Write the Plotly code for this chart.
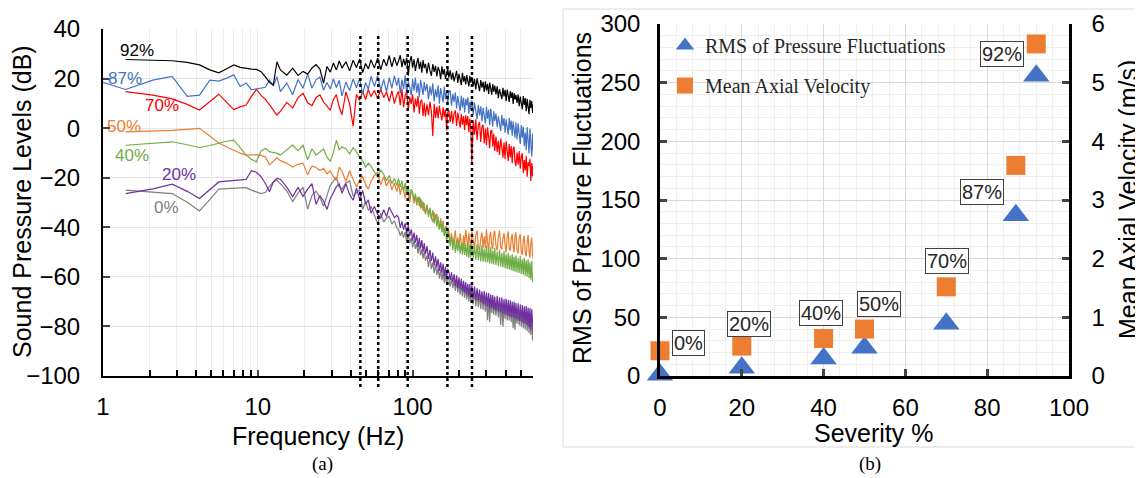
import math
import plotly.graph_objects as go

# ---- (a) sound pressure spectra ----
freq = [0.7, 1.4, 2.1, 2.8, 3.5, 4.2, 4.9, 5.6, 6.3, 7.0, 7.7, 8.4, 9.1, 9.8, 10.5, 11.2, 11.9, 12.6, 13.3, 14.0,
        15.4, 16.8, 18.2, 19.6, 21.0, 22.4, 23.8, 25.2, 26.6, 28.0, 29.4, 30.8, 32.2, 33.6, 35.0,
        37.1, 39.2, 41.3, 43.4, 45.5, 47.6, 49.7, 51.8, 53.9,
        56.7, 59.5, 62.3, 65.1, 67.9, 70.7, 73.5, 76.3, 79.1,
        81.2, 83.3, 85.4, 87.5, 89.6, 91.7, 93.8, 95.9, 98.0, 100.1,
        102.2, 104.3, 106.4, 108.5, 110.6, 112.7, 114.8, 116.9, 119.0, 121.1,
        123.9, 126.7, 129.5, 132.3, 135.1, 137.9, 140.7, 143.5, 146.3,
        149.1, 151.9, 154.7, 157.5, 160.3, 163.1, 165.9, 168.7, 171.5,
        175.0, 178.5, 182.0, 185.5, 189.0, 192.5, 196.0, 199.5, 203.0, 206.5,
        210.0, 213.5, 217.0, 220.5, 224.0, 227.5, 231.0, 234.5, 238.0, 241.5,
        246.4, 251.3, 256.2, 261.1, 266.0, 270.9, 275.8, 280.7, 285.6, 290.5,
        295.4, 300.3, 305.2, 310.1, 315.0, 319.9, 324.8, 329.7, 334.6, 339.5,
        345.8, 352.1, 358.4, 364.7, 371.0, 377.3, 383.6, 389.9, 396.2, 402.5,
        408.8, 415.1, 421.4, 427.7, 434.0, 440.3, 446.6, 452.9, 459.2, 465.5,
        473.2, 480.9, 488.6, 496.3, 504.0, 511.7, 519.4, 527.1, 534.8,
        542.5, 550.2, 557.9, 565.6, 573.3, 581.0, 588.7, 596.4, 604.1]

spl_92 = [None, 27.7, 27.5, 27.2, 26.5, 25.5, 23.5, 22.3, 24.0, 25.5, 24.5, 24.0, 23.8, 23.7, 22.8, 20.7, 18.5, 17.4, 26.8, 23.5,
          21.4, 24.2, 21.3, 22.9, 21.8, 24.3, 25.6, 23.8, 18.2, 24.9, 22.6, 26.3, 23.5, 27.1, 24.2,
          26.8, 23.1, 27.4, 24.5, 27.9, 22.4, 26.1, 23.9, 27.5,
          24.3, 28.2, 23.6, 27.8, 25.1, 29.3, 24.7, 28.6, 25.2,
          27.1, 29.4, 24.6, 27.9, 25.3, 28.4, 21.2, 26.7, 29.1, 24.4,
          27.8, 23.1, 26.2, 28.3, 23.9, 26.8, 22.4, 27.5, 24.2, 25.9,
          22.1, 26.4, 23.3, 21.1, 25.8, 22.7, 25.1, 20.9, 24.6,
          23.2, 19.8, 24.9, 21.6, 23.8, 19.9, 22.8, 24.1, 20.4,
          23.3, 19.6, 22.4, 18.9, 21.7, 23.1, 18.2, 21.9, 19.7, 17.4,
          22.3, 18.8, 20.9, 17.6, 21.4, 19.2, 16.8, 21.1, 18.4, 20.6,
          16.9, 19.8, 15.6, 20.1, 17.2, 14.9, 19.4, 16.3, 18.7, 14.6,
          18.9, 15.2, 17.9, 13.8, 18.4, 16.1, 13.5, 17.8, 14.7, 17.2,
          13.6, 16.9, 12.1, 15.8, 13.9, 11.7, 16.3, 12.8, 15.4, 10.9,
          15.6, 13.1, 10.6, 14.9, 12.2, 14.5, 9.8, 14.1, 11.6, 13.4,
          10.2, 13.6, 8.9, 12.7, 10.8, 7.6, 12.9, 9.4, 12.1,
          6.8, 11.8, 9.1, 5.6, 11.4, 8.2, 10.9, 6.1, 9.7]

spl_87 = [21.5, 15.6, 19.4, 20.9, 12.8, 13.3, 19.4, 19.0, 20.2, 21.5, 16.8, 18.2, 15.5, 15.8, 16.2, 16.5, 19.4, 17.0, 20.7, 14.7,
          18.2, 13.5, 19.6, 16.1, 21.8, 16.2, 19.5, 20.6, 15.3, 18.4, 15.8, 19.9, 16.4, 19.3, 13.0,
          18.6, 15.2, 19.8, 16.3, 20.1, 13.8, 18.4, 15.6, 20.9,
          16.8, 21.2, 15.3, 19.7, 14.6, 20.4, 16.1, 21.1, 17.2,
          20.3, 14.1, 19.6, 15.8, 21.2, 13.7, 18.9, 16.4, 13.2, 19.8,
          15.1, 20.4, 14.3, 18.1, 12.6, 19.5, 15.7, 13.4, 18.6, 14.9,
          17.8, 11.6, 16.9, 13.2, 18.1, 10.8, 15.7, 12.4, 17.3,
          9.9, 16.2, 13.1, 10.4, 16.8, 11.7, 15.1, 9.3, 14.6,
          15.2, 9.1, 13.8, 10.6, 14.4, 7.9, 12.9, 9.8, 6.9, 13.1,
          8.4, 12.2, 6.3, 11.8, 9.2, 12.4, 5.8, 10.7, 7.6, 11.2,
          5.4, 10.3, 6.8, 3.6, 9.4, 5.1, 8.8, 2.7, 8.2, 4.6,
          1.9, 8.6, 3.8, 7.4, 1.2, 7.9, 3.3, 0.6, 6.8, 2.9,
          5.9, 0.4, 4.8, 1.7, -1.1, 5.3, 0.8, 4.1, -1.8, 3.6,
          0.2, -2.6, 4.2, -0.7, 3.1, -3.2, 2.8, -1.4, -3.8, 2.4,
          -4.6, 1.9, -2.1, -6.4, 1.2, -3.9, 0.6, -7.3, -1.8,
          -8.9, 0.4, -4.7, -10.2, -0.3, -6.1, -11.4, -2.2, -9.8]

spl_70 = [None, 14.7, 13.3, 11.8, 9.6, 7.3, 10.8, 13.7, 10.4, 7.5, 8.6, 9.3, 12.8, 15.6, 13.2, 11.6, 9.5, 7.4, 5.3, 6.8,
          10.4, 8.1, 12.3, 14.1, 10.2, 9.1, 12.4, 13.4, 10.6, 8.9, 7.2, 11.6, 13.5, 8.4, 5.4,
          14.6, 9.8, 0.8, 13.6, 11.2, 14.8, 11.5, 15.6, 12.7,
          15.2, 11.9, 15.8, 12.3, 14.6, 10.8, 15.1, 9.9, 13.4,
          14.8, 9.3, 15.9, 8.4, 13.1, 14.7, 7.2, 12.6, 9.8, 13.6,
          6.3, 11.9, 8.7, 12.9, 5.8, 10.8, 11.4, 4.9, 10.2, 4.7,
          9.6, 5.2, 10.6, 6.8, -3.2, 9.8, 4.1, 8.6, 3.9,
          9.1, 5.7, 3.1, 8.4, 4.4, 7.6, -0.9, 6.3, 7.2,
          2.4, 6.9, 1.8, 5.8, 7.1, 0.9, 6.3, 2.6, 0.2, 5.7,
          1.4, 4.9, -0.8, 5.2, 1.1, 4.9, -1.6, 3.8, -0.4, -13.8,
          3.1, -2.6, 3.6, -4.8, 1.2, 2.5, -5.6, 0.4, 1.4, -6.2,
          -0.2, -6.9, 0.3, -3.4, -8.1, -1.1, -0.9, -7.4, -2.3, -9.2,
          -3.4, -9.6, -5.1, -10.8, -4.2, -7.6, -11.9, -5.8, -12.4, -5.3,
          -9.1, -13.2, -6.4, -11.8, -7.2, -14.1, -8.3, -7.5, -13.6, -15.3,
          -9.8, -14.7, -9.2, -16.4, -11.6, -10.1, -18.2, -12.9, -17.1,
          -11.3, -19.6, -13.8, -15.2, -12.4, -21.3, -14.1, -19.5, -14.6]

spl_50 = [None, -1.5, -1.2, -0.9, -0.5, -0.1, -3.2, -6.0, -7.6, -9.0, -10.1, -10.9, -10.8, -10.7, -11.0, -11.6, -14.8, -13.2, -12.0, -13.1,
          -14.2, -15.7, -14.6, -14.1, -18.8, -15.3, -15.9, -17.1, -16.2, -18.4, -17.3, -19.6, -21.1, -15.7, -17.4,
          -21.5, -17.2, -20.6, -23.8, -20.9, -19.5, -22.8, -24.6, -21.4,
          -19.1, -17.8, -22.9, -19.6, -23.4, -20.8, -24.9, -22.1, -25.6,
          -22.4, -26.8, -23.4, -25.1, -28.2, -24.6, -27.3, -29.9, -25.7, -26.1,
          -30.4, -27.2, -31.2, -28.6, -27.8, -32.6, -29.1, -33.4, -30.2, -34.8,
          -31.4, -34.7, -32.1, -36.2, -37.9, -33.8, -37.1, -34.6, -39.3,
          -40.8, -36.4, -41.2, -37.3, -43.2, -39.8, -39.5, -44.6, -41.3,
          -46.1, -42.4, -47.3, -43.6, -41.2, -47.8, -44.1, -48.1, -42.4, -46.5,
          -49.3, -43.2, -47.6, -40.9, -45.8, -48.5, -42.2, -47.4, -49.1, -41.6,
          -46.2, -48.7, -43.1, -41.3, -47.9, -49.2, -44.6, -42.1, -48.3, -43.7,
          -48.4, -40.8, -46.1, -49.6, -43.4, -41.9, -47.2, -48.8, -42.7, -41.4,
          -47.6, -49.3, -43.8, -41.2, -48.1, -48.9, -44.5, -42.3, -47.2, -50.1,
          -43.6, -41.7, -48.7, -49.4, -44.9, -42.6, -47.8, -50.2, -43.3, -42.1,
          -49.2, -50.6, -44.1, -42.8, -49.7, -51.2, -45.3, -43.5, -50.4,
          -51.8, -45.9, -43.1, -49.8, -52.4, -46.2, -44.2, -51.6, -53.1]

spl_40 = [None, -6.9, -6.2, -5.5, -6.7, -7.8, -7.0, -6.0, -5.3, -4.8, -7.9, -10.8, -12.6, -13.6, -9.2, -8.2, -9.5, -9.9, -10.2, -10.9,
          -8.6, -6.8, -9.1, -6.9, -12.8, -8.3, -10.9, -9.6, -8.4, -11.7, -13.4, -9.8, -4.9, -8.7, -7.6,
          -8.3, -10.4, -7.9, -9.5, -11.8, -13.2, -15.8, -14.1, -15.3,
          -17.4, -19.8, -16.9, -18.6, -21.2, -19.1, -22.4, -20.3, -23.1,
          -20.4, -23.8, -21.2, -25.6, -22.1, -26.9, -23.3, -28.4, -24.7, -25.8,
          -29.2, -26.4, -30.1, -27.6, -31.5, -28.3, -32.2, -29.7, -33.4, -34.1,
          -30.8, -35.9, -32.4, -36.8, -33.1, -38.4, -34.9, -39.6, -35.8,
          -40.9, -37.2, -42.1, -38.3, -43.6, -39.8, -45.7, -41.2, -42.9,
          -47.6, -43.4, -49.2, -44.1, -50.3, -45.8, -49.6, -45.2, -50.6, -46.4,
          -51.1, -45.8, -51.2, -46.9, -51.9, -46.3, -52.4, -47.1, -52.2, -46.7,
          -52.3, -47.6, -53.1, -46.9, -53.2, -48.1, -53.8, -47.2, -53.9, -48.6,
          -54.1, -47.5, -54.2, -49.1, -54.6, -47.9, -54.7, -49.4, -55.0, -48.3,
          -55.2, -49.8, -55.6, -49.1, -55.9, -50.4, -56.2, -49.6, -56.5, -50.9,
          -56.8, -50.2, -57.1, -51.4, -57.3, -50.8, -57.6, -51.9, -57.9, -51.3,
          -58.2, -52.4, -58.4, -51.6, -58.8, -52.9, -59.1, -52.3, -59.5,
          -53.4, -59.8, -52.9, -60.4, -54.1, -61.2, -53.6, -61.8, -62.4]

spl_20 = [None, -26.4, -24.5, -22.6, -25.5, -28.4, -25.0, -21.7, -21.4, -21.1, -20.9, -20.7, -17.2, -17.8, -19.6, -22.3, -25.7, -21.7, -20.3, -20.6,
          -23.8, -27.6, -23.9, -27.5, -24.6, -22.4, -30.8, -27.2, -29.4, -32.8, -28.5, -26.1, -23.6, -22.5, -26.3,
          -22.4, -26.8, -29.1, -24.2, -28.7, -25.1, -30.6, -28.9, -34.3,
          -31.6, -34.8, -36.4, -32.9, -35.7, -31.9, -34.2, -36.1, -35.2,
          -36.1, -40.2, -37.6, -40.9, -38.4, -42.7, -39.2, -43.6, -40.8, -45.4,
          -42.1, -46.2, -43.1, -47.9, -44.3, -48.5, -45.2, -49.8, -46.4, -50.8,
          -47.6, -52.8, -49.1, -53.6, -50.2, -55.4, -51.7, -56.2, -52.7,
          -57.6, -54.1, -58.3, -54.6, -59.7, -55.9, -60.4, -56.8, -57.8,
          -61.3, -58.2, -62.1, -58.9, -63.6, -59.4, -64.5, -60.2, -64.9, -60.8,
          -65.8, -61.6, -66.3, -62.1, -67.1, -62.8, -67.6, -62.9, -68.4, -63.5,
          -68.7, -63.9, -69.2, -64.6, -69.5, -65.1, -70.1, -65.8, -70.8, -65.7,
          -71.4, -66.3, -71.9, -66.5, -72.6, -67.1, -72.4, -67.3, -73.2, -67.9,
          -73.6, -67.6, -74.1, -68.2, -74.4, -68.3, -75.0, -68.9, -75.1, -68.8,
          -75.6, -69.4, -75.8, -69.5, -76.3, -70.1, -76.2, -70.0, -76.9, -70.6,
          -77.1, -70.7, -77.8, -71.2, -78.1, -71.4, -78.6, -71.9, -78.8,
          -71.8, -79.4, -72.4, -80.3, -72.6, -81.2, -73.1, -82.4, -83.6]

spl_0 = [None, -25.0, -25.7, -26.4, -29.9, -33.4, -28.8, -24.6, -24.4, -24.2, -24.1, -24.0, -25.0, -25.8, -26.4, -26.0, -23.5, -21.7, -21.0, -22.4,
         -25.3, -29.6, -26.2, -23.8, -32.7, -27.1, -25.4, -27.9, -31.5, -27.2, -23.1, -21.4, -19.8, -23.9, -24.6,
         -22.1, -21.3, -27.4, -26.1, -24.8, -32.8, -29.6, -33.2, -31.5,
         -35.1, -38.6, -34.4, -37.9, -36.2, -35.6, -38.7, -37.4, -40.3,
         -40.8, -43.5, -41.6, -44.2, -41.9, -45.8, -42.8, -46.5, -44.2, -48.1,
         -45.1, -48.7, -46.3, -50.6, -47.2, -51.3, -48.8, -52.7, -49.6, -53.4,
         -51.4, -56.1, -52.2, -56.8, -54.2, -58.5, -54.9, -59.2, -56.3,
         -60.7, -57.1, -61.4, -57.9, -62.4, -58.6, -63.1, -60.1, -60.8,
         -63.8, -60.5, -64.6, -61.2, -65.6, -61.7, -66.3, -62.4, -67.2, -62.6,
         -67.9, -63.3, -68.4, -63.8, -69.1, -64.5, -69.9, -64.6, -70.6, -65.2,
         -71.1, -66.1, -71.8, -66.7, -72.2, -66.9, -72.9, -67.5, -73.4, -67.8,
         -74.1, -68.4, -77.5, -68.9, -78.2, -69.6, -74.6, -69.5, -75.3, -70.2,
         -75.7, -70.2, -76.4, -70.8, -79.4, -70.9, -80.1, -71.5, -76.9, -71.4,
         -77.6, -72.1, -77.6, -72.2, -78.3, -72.8, -80.7, -72.7, -81.4, -73.4,
         -78.9, -73.3, -79.6, -73.9, -80.1, -73.9, -80.8, -74.6, -81.2,
         -74.5, -81.9, -75.2, -82.7, -75.1, -83.4, -75.8, -85.2, -86.1]

marker_hz = [46, 60, 93, 168, 242]

# ---- (b) RMS and mean axial velocity vs severity ----
severity = [0, 20, 40, 50, 70, 87, 92]
rms = [1, 7, 15, 24, 44.6, 137, 256]
velocity = [0.43, 0.51, 0.64, 0.80, 1.52, 3.59, 5.66]
sev_labels = ['0%', '20%', '40%', '50%', '70%', '87%', '92%']

FONT = 'Liberation Sans, Arial, sans-serif'
SERIF = 'Liberation Serif, Times New Roman, serif'

# the page body adds an 8px margin, so the figure is 8px smaller and positions are shifted
OFF = 8
W, H = 1143 - OFF, 478 - OFF


def px(x):
    return (x - OFF) / W


def py(y):
    return 1 - (y - OFF) / H


fig = go.Figure()

spectra = [
    ('0%', spl_0, '#7f7f7f', 2.59, -31.9),
    ('20%', spl_20, '#7030A0', 3.09, -18.8),
    ('50%', spl_50, '#ED7D31', 1.37, 0.8),
    ('40%', spl_40, '#70AD47', 1.55, -10.9),
    ('70%', spl_70, '#FF0000', 2.42, 9.3),
    ('87%', spl_87, '#4472C4', 1.39, 20.2),
    ('92%', spl_92, '#000000', 1.67, 31.5),
]
for name, vals, col, lx, ly in spectra:
    assert len(vals) == len(freq), (name, len(vals), len(freq))
    fig.add_trace(go.Scatter(x=freq, y=vals, mode='lines', name=name, showlegend=False,
                             line=dict(color=col, width=1.2), xaxis='x', yaxis='y'))
    fig.add_annotation(x=math.log10(lx), y=ly, xref='x', yref='y', text=name, showarrow=False,
                       font=dict(family=FONT, size=17, color=col))

for f in marker_hz:
    fig.add_shape(type='line', xref='x', yref='paper', x0=f, x1=f, y0=py(387), y1=py(35),
                  line=dict(color='black', width=2.5, dash='dot'))

fig.add_trace(go.Scatter(x=severity, y=rms, mode='markers', name='RMS of Pressure Fluctuations',
                         marker=dict(symbol='triangle-up', size=23, color='#4472C4'),
                         cliponaxis=False, xaxis='x2', yaxis='y2', legendgroup='a'))
fig.add_trace(go.Scatter(x=severity, y=velocity, mode='markers', name='Mean Axial Velocity',
                         marker=dict(symbol='square', size=19, color='#ED7D31'),
                         cliponaxis=False, xaxis='x2', yaxis='y3', legendgroup='b'))

# label offsets (px) relative to each RMS point
label_shift = [(28, 32), (7, 44), (-3, 45), (14, 44), (1, 63), (-34, 23), (-34, 22)]
for s, r, t, (dx, dy) in zip(severity, rms, sev_labels, label_shift):
    fig.add_annotation(x=s, y=r, xref='x2', yref='y2', text=t, showarrow=False,
                       xshift=dx, yshift=dy, bgcolor='white', bordercolor='#404040',
                       borderwidth=1, borderpad=1, font=dict(family=FONT, size=20, color='#262626'))

# axis titles and panel captions (pixel positions in the reference)
titles = [
    ('Sound Pressure Levels (dB)', 22, 202, -90),
    ('Frequency (Hz)', 318, 436, 0),
    ('RMS of Pressure Fluctuations', 582, 198, -90),
    ('Mean Axial Velocity (m/s)', 1128, 200, -90),
    ('Severity %', 873, 433, 0),
]
for t, x, y, ang in titles:
    fig.add_annotation(x=px(x), y=py(y), xref='paper', yref='paper', text=t, showarrow=False,
                       textangle=ang, xanchor='center', yanchor='middle',
                       font=dict(family=FONT, size=25, color='black'))
for t, x in [('(a)', 322), ('(b)', 870)]:
    fig.add_annotation(x=px(x), y=py(464), xref='paper', yref='paper', text=t, showarrow=False,
                       xanchor='center', yanchor='middle', font=dict(family=SERIF, size=19, color='black'))

# light frame around panel (b)
fig.add_shape(type='rect', xref='paper', yref='paper', x0=px(563), x1=px(1140), y0=py(447), y1=py(9),
              line=dict(color='#d9d9d9', width=1), layer='below')

tickfont = dict(family=FONT, size=24, color='black')
fig.update_layout(
    width=W, height=H, autosize=False,
    margin=dict(l=0, r=0, t=0, b=0, pad=0, autoexpand=False),
    paper_bgcolor='white', plot_bgcolor='white',
    showlegend=True,
    legend=dict(x=px(665), y=py(26), xanchor='left', yanchor='top', bgcolor='rgba(0,0,0,0)',
                font=dict(family=SERIF, size=20, color='#262626'), tracegroupgap=11),
    xaxis=dict(type='log', domain=[px(103), px(533)], range=[0, math.log10(600)],
               tickvals=[1, 10, 100], ticktext=['1', '10', '100'], tickfont=tickfont,
               showline=True, linecolor='black', linewidth=2, ticks='inside', ticklen=6, tickwidth=2,
               showgrid=True, gridcolor='#e6e6e6', zeroline=False, ticklabelstandoff=8, automargin=False,
               minor=dict(tickvals=[2, 3, 4, 5, 6, 7, 8, 9, 20, 30, 40, 50, 60, 70, 80, 90, 200, 300, 400, 500],
                          ticks='inside', ticklen=6, tickwidth=2, tickcolor='black',
                          showgrid=True, gridcolor='#ececec')),
    yaxis=dict(domain=[py(376), py(29)], range=[-100, 40], dtick=20, tickfont=tickfont,
               showline=True, linecolor='black', linewidth=2, ticks='inside', ticklen=7, tickwidth=2,
               showgrid=True, gridcolor='#e6e6e6', zeroline=False, ticklabelstandoff=16, automargin=False),
    xaxis2=dict(domain=[px(660), px(1069)], range=[0, 100], dtick=20, tickfont=tickfont,
                showline=True, linecolor='black', linewidth=2.5, ticks='inside', ticklen=7, tickwidth=2.5,
                showgrid=True, gridcolor='#d9d9d9', zeroline=False, ticklabelstandoff=8, automargin=False,
                minor=dict(dtick=4, showgrid=True, gridcolor='#efefef')),
    yaxis2=dict(domain=[py(376), py(24)], range=[0, 300], dtick=50, anchor='x2', tickfont=tickfont,
                showline=True, linecolor='black', linewidth=2.5, ticks='inside', ticklen=7, tickwidth=2.5,
                showgrid=True, gridcolor='#d9d9d9', zeroline=False, ticklabelstandoff=12, automargin=False,
                minor=dict(dtick=10, showgrid=True, gridcolor='#efefef')),
    yaxis3=dict(overlaying='y2', side='right', anchor='x2', range=[0, 6], dtick=1, tickfont=tickfont,
                showline=True, linecolor='black', linewidth=2.5, ticks='inside', ticklen=7, tickwidth=2.5,
                showgrid=False, zeroline=False, ticklabelstandoff=15, automargin=False),
)

fig.write_html('out.html')
